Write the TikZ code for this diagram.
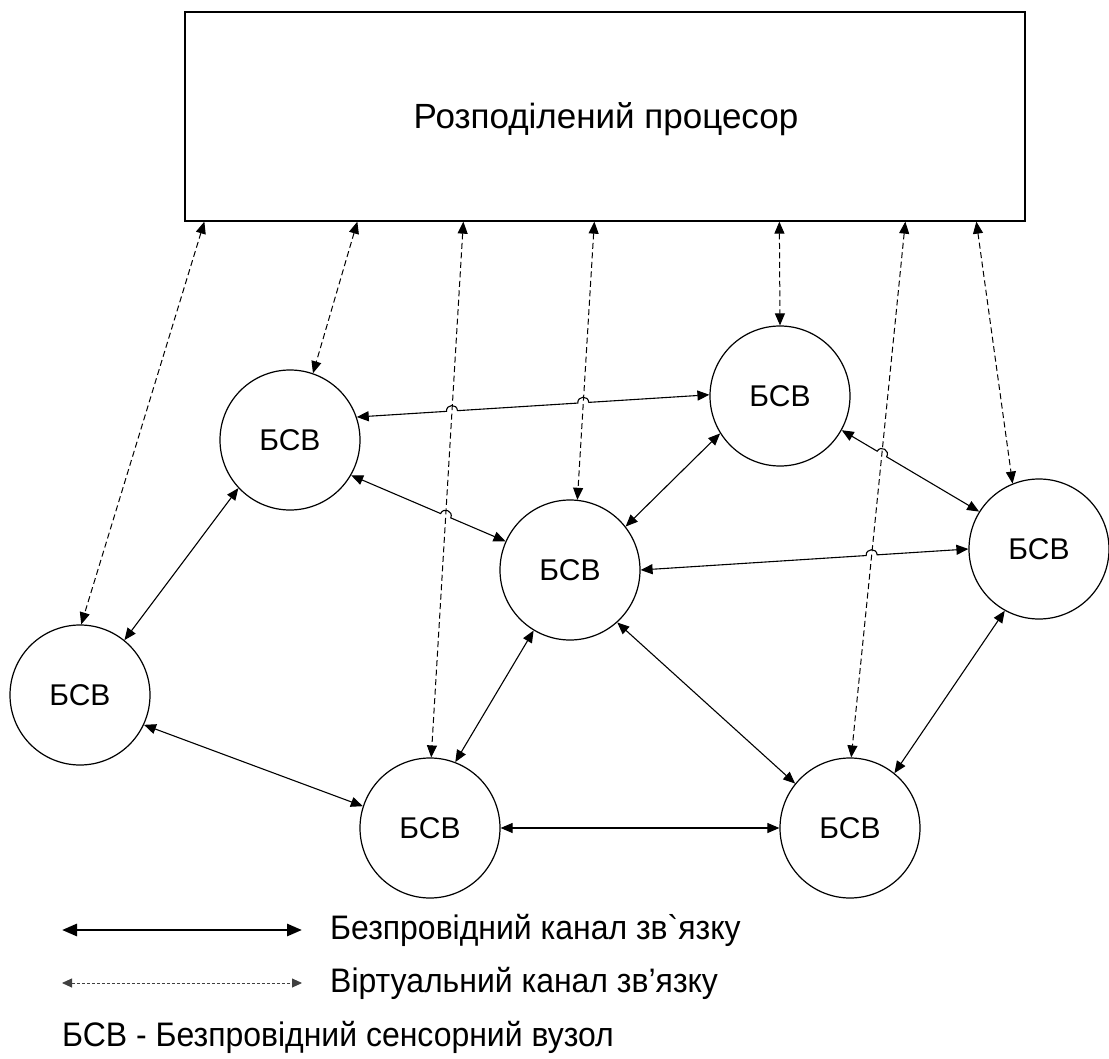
\documentclass[tikz,border=0pt]{standalone}
\usepackage{fontspec}
\setmainfont[Ligatures=TeXOff]{Liberation Sans}
\newfontfamily\legfont[Ligatures=TeXOff,FakeStretch=0.94]{Liberation Sans}
\usetikzlibrary{arrows.meta,calc,intersections}
\newcommand\hopat[3]{%
  \coordinate (#1a) at ($(#1)!5.5pt!(#2)$);
  \coordinate (#1b) at ($(#1)!5.5pt!(#3)$);
  \coordinate (#1c) at ($(#1a)!7.3pt!90:(#1)$);
  \coordinate (#1d) at ($(#1b)!7.3pt!-90:(#1)$);}
\begin{document}
\begin{tikzpicture}[x=1pt,y=-1pt,
  procbox/.style={draw,line width=1.3pt,minimum width=840pt,minimum height=209pt,inner sep=0pt},
  bsv/.style={circle,draw,line width=1.2pt,minimum size=140pt,inner sep=0pt,font=\fontsize{30}{36}\selectfont},
  tipw/.style={{Triangle[length=12pt,width=10pt]}-{Triangle[length=12pt,width=10pt]}},
  wl/.style={line width=1.1pt,tipw},
  vl/.style={line width=1pt,dash pattern=on 6pt off 3.5pt,tipw},
  legtext/.style={anchor=west,inner sep=0pt,font=\legfont\fontsize{34}{40}\selectfont},
]
\useasboundingbox (0,0) rectangle (1109,1059);

\node[procbox] (proc) at (605,116.5) {};
\node[font=\fontsize{35}{42}\selectfont,inner sep=0pt] (title) at (606,119) {Розподілений процесор};

\node[bsv] (n1) at (290,440) {БСВ};
\node[bsv] (n2) at (780,396) {БСВ};
\node[bsv] (n3) at (570,570) {БСВ};
\node[bsv] (n4) at (1039,549) {БСВ};
\node[bsv] (n5) at (80,695) {БСВ};
\node[bsv] (n6) at (430,828) {БСВ};
\node[bsv] (n7) at (850,828) {БСВ};

% anchors on the processor box
\coordinate (b1) at ($(proc.south west)+(20,0)$);
\coordinate (b2) at ($(proc.south west)+(173,0)$);
\coordinate (b3) at ($(proc.south west)+(279,0)$);
\coordinate (b4) at ($(proc.south west)+(410,0)$);
\coordinate (b5) at ($(proc.south west)+(595,0)$);
\coordinate (b6) at ($(proc.south west)+(721,0)$);
\coordinate (b7) at ($(proc.south west)+(792,0)$);

% virtual (dashed) links
\draw[vl,name path=d1] (b1) -- (n5.89);
\draw[vl,name path=d2] (b2) -- (n1.71);
\draw[vl,name path=d3] (b3) -- (n6.89);
\draw[vl,name path=d4] (b4) -- (n3.84);
\draw[vl,name path=d5] (b5) -- (n2.90);
\draw[vl,name path=d6] (b6) -- (n7.89);
\draw[vl,name path=d7] (b7) -- (n4.112);

% wireless links with hops
\path[name path=l12] (n1.19) -- (n2.179);
\path[name intersections={of=l12 and d3,by={ha}}];
\path[name intersections={of=l12 and d4,by={hb}}];
\hopat{ha}{n1.19}{n2.179}
\hopat{hb}{n1.19}{n2.179}
\draw[wl] (n1.19) -- (haa) .. controls (hac) and (had) .. (hab) -- (hba) .. controls (hbc) and (hbd) .. (hbb) -- (n2.179);

\path[name path=l13] (n1.-30) -- (n3.156);
\path[name intersections={of=l13 and d3,by={hc}}];
\hopat{hc}{n1.-30}{n3.156}
\draw[wl] (n1.-30) -- (hca) .. controls (hcc) and (hcd) .. (hcb) -- (n3.156);

\path[name path=l24] (n2.-29) -- (n4.148);
\path[name intersections={of=l24 and d6,by={hd}}];
\hopat{hd}{n2.-29}{n4.148}
\draw[wl] (n2.-29) -- (hda) .. controls (hdc) and (hdd) .. (hdb) -- (n4.148);

\path[name path=l34] (n3.0) -- (n4.180);
\path[name intersections={of=l34 and d6,by={he}}];
\hopat{he}{n3.0}{n4.180}
\draw[wl] (n3.0) -- (hea) .. controls (hec) and (hed) .. (heb) -- (n4.180);

% plain wireless links
\draw[wl] (n1.223) -- (n5.51);
\draw[wl] (n2.212) -- (n3.38);
\draw[wl] (n3.239) -- (n6.69);
\draw[wl] (n3.-48) -- (n7.141);
\draw[wl] (n4.241) -- (n7.51);
\draw[wl] (n5.-25) -- (n6.162);
\draw[wl] (n6.0) -- (n7.180);

% legend
\coordinate (la) at (62,930);
\coordinate (lb) at (302,930);
\coordinate (lc) at (62,983);
\coordinate (ld) at (302,983);
\draw[line width=2.8pt,{Triangle[length=15pt,width=12pt]}-{Triangle[length=15pt,width=12pt]}] (la) -- (lb);
\draw[line width=0.9pt,black!75,dash pattern=on 3pt off 2pt,{Triangle[length=10pt,width=9pt]}-{Triangle[length=10pt,width=9pt]}] (lc) -- (ld);
\node[legtext] (t1) at (330,930) {Безпровідний канал зв`язку};
\node[legtext] (t2) at (330,983) {Віртуальний канал зв’язку};
\node[legtext] (t3) at (62,1037) {БСВ - Безпровідний сенсорний вузол};
\end{tikzpicture}
\end{document}
